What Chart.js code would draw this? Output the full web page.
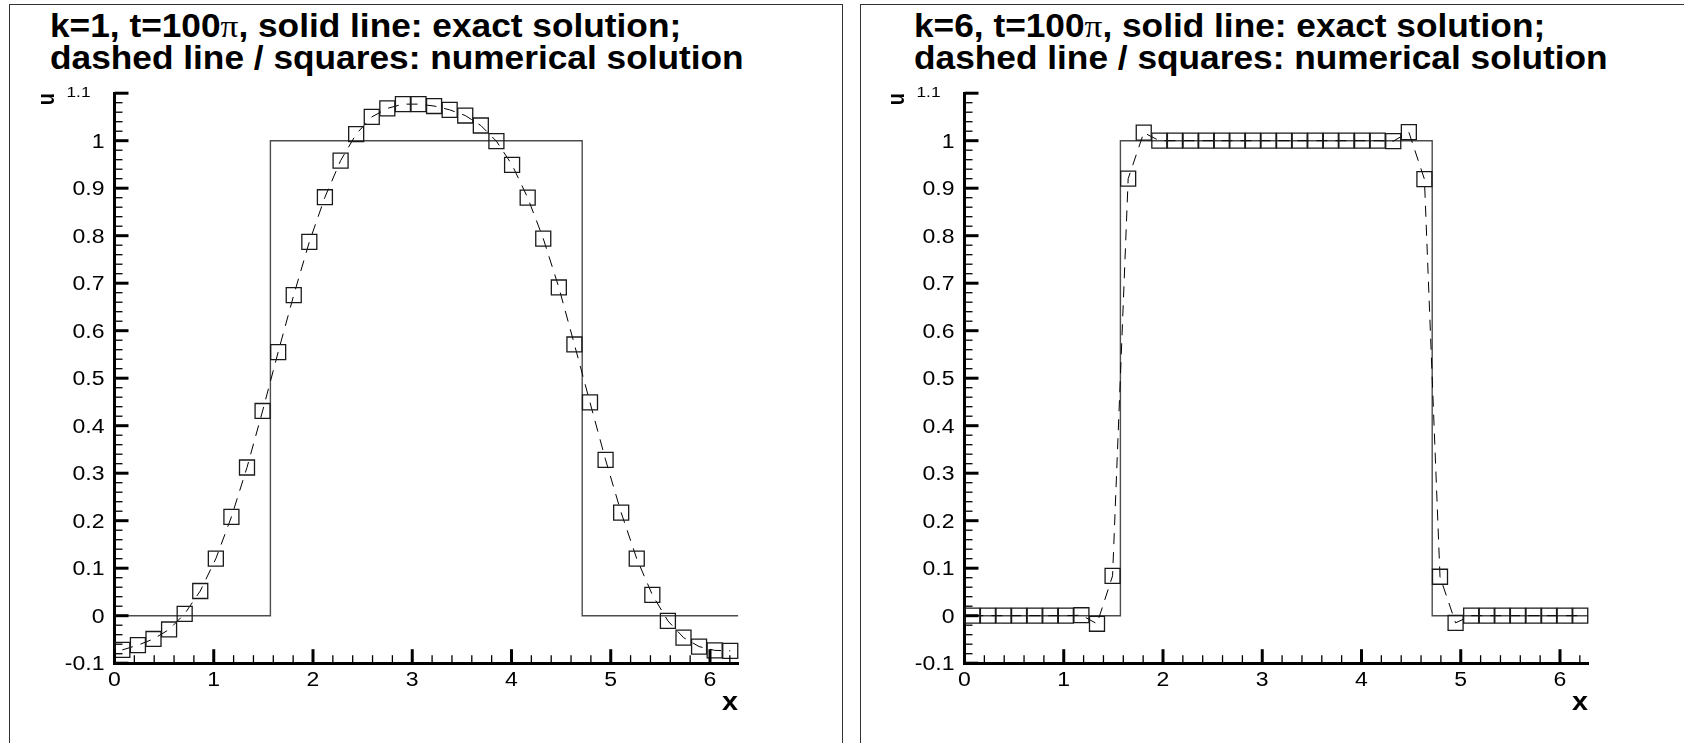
<!DOCTYPE html>
<html>
<head>
<meta charset="utf-8">
<script src="https://cdn.jsdelivr.net/npm/chart.js@4.4.1/dist/chart.umd.min.js"></script>
<style>
  html, body { margin: 0; padding: 0; background: #fff; }
  body { width: 1684px; height: 743px; position: relative; overflow: hidden; }
  .frame { position: absolute; border: 1.6px solid #333; box-sizing: border-box; }
  .plot { position: absolute; top: 0; }
  .title {
    position: absolute; top: 9.5px;
    font: bold 32.5px "Liberation Sans", Arial, sans-serif;
    line-height: 32px; white-space: nowrap; color: #000;
    transform: scaleX(1.085); transform-origin: 0 0;
  }
  .title .pi { font-family: "Liberation Serif", serif; font-weight: normal; }
</style>
</head>
<body>
<div class="frame" style="left:9px; top:4px; width:834px; height:800px;"></div>
<div class="frame" style="left:860px; top:4px; width:900px; height:800px;"></div>

<div class="title" style="left:50px;">k=1, t=100<span class="pi">π</span>, solid line: exact solution;<br>dashed line / squares: numerical solution</div>
<div class="title" style="left:914px;">k=6, t=100<span class="pi">π</span>, solid line: exact solution;<br>dashed line / squares: numerical solution</div>

<canvas id="chart-k1" class="plot" width="850" height="743" style="left:0;"></canvas>
<canvas id="chart-k6" class="plot" width="834" height="743" style="left:850px;"></canvas>

<script>
// grid points (cell centres) and values
const xNodes = [0.079, 0.236, 0.393, 0.550, 0.707, 0.864, 1.021, 1.178, 1.335, 1.492,
                1.649, 1.806, 1.963, 2.120, 2.278, 2.435, 2.592, 2.749, 2.906, 3.063,
                3.220, 3.377, 3.534, 3.691, 3.848, 4.006, 4.163, 4.320, 4.477, 4.634,
                4.791, 4.948, 5.105, 5.262, 5.419, 5.576, 5.733, 5.890, 6.047, 6.204];

const uNumK1 = [-0.072, -0.062, -0.049, -0.029, 0.004, 0.052, 0.120, 0.208, 0.312, 0.431,
                0.555, 0.675, 0.787, 0.881, 0.958, 1.014, 1.050, 1.068, 1.077, 1.077,
                1.073, 1.065, 1.053, 1.032, 0.999, 0.949, 0.880, 0.794, 0.691, 0.571,
                0.449, 0.328, 0.217, 0.120, 0.044, -0.011, -0.046, -0.065, -0.073, -0.074];

const uNumK6 = [0, 0, 0, 0, 0, 0, 0, 0.001, -0.017, 0.084,
                0.920, 1.017, 1.0, 1.0, 1.0, 1.0, 1.0, 1.0, 1.0, 1.0,
                1.0, 1.0, 1.0, 1.0, 1.0, 1.0, 1.0, 0.999, 1.018, 0.919,
                0.082, -0.015, 0, 0, 0, 0, 0, 0, 0, 0];

// exact solution: box between pi/2 and 3pi/2
const xExact = [0, 1.5708, 1.5708, 4.7124, 4.7124, 6.2832];
const uExact = [0, 0, 1, 1, 0, 0];

const xTickValues = [0, 1, 2, 3, 4, 5, 6];
const xTickLabels = ['0', '1', '2', '3', '4', '5', '6'];
const yTickValues = [-0.1, 0, 0.1, 0.2, 0.3, 0.4, 0.5, 0.6, 0.7, 0.8, 0.9, 1, 1.1];
const yTickLabels = ['-0.1', '0', '0.1', '0.2', '0.3', '0.4', '0.5', '0.6', '0.7', '0.8', '0.9', '1', '1.1'];

const X_MIN = 0, X_MAX = 6.2832;
const Y_MIN = -0.1, Y_MAX = 1.1;
const X_MINOR = 0.2, Y_MINOR = 0.02;

const STRETCH = 1.15;      // text in the original is drawn a bit wide
const FONT = '"Liberation Sans", Arial, sans-serif';

function wideText(ctx, text, x, y, align) {
  ctx.save();
  ctx.translate(x, y);
  ctx.scale(STRETCH, 1);
  ctx.textAlign = align;
  ctx.textBaseline = 'alphabetic';
  ctx.fillText(text, 0, 0);
  ctx.restore();
}

// inward ticks, tick labels and axis titles, tecplot style
const tecAxes = {
  id: 'tecAxes',
  afterDraw(chart) {
    const { ctx, chartArea: a, scales: { x, y } } = chart;
    ctx.save();
    ctx.strokeStyle = '#000';

    for (let i = 0; ; i++) {
      const v = X_MIN + i * X_MINOR;
      if (v > X_MAX + 1e-9) break;
      const px = x.getPixelForValue(v);
      const major = i % 5 === 0;
      ctx.lineWidth = major ? 3 : 1.3;
      ctx.beginPath();
      ctx.moveTo(px, a.bottom);
      ctx.lineTo(px, a.bottom - (major ? 14 : 8));
      ctx.stroke();
    }
    for (let i = 0; ; i++) {
      const v = Y_MIN + i * Y_MINOR;
      if (v > Y_MAX + 1e-9) break;
      const py = y.getPixelForValue(v);
      const major = i % 5 === 0;
      ctx.lineWidth = major ? 3 : 1.3;
      ctx.beginPath();
      ctx.moveTo(a.left, py);
      ctx.lineTo(a.left + (major ? 14 : 8), py);
      ctx.stroke();
    }

    ctx.fillStyle = '#000';
    ctx.font = `20px ${FONT}`;
    xTickValues.forEach((v, i) => {
      wideText(ctx, xTickLabels[i], x.getPixelForValue(v), a.bottom + 23, 'center');
    });
    yTickValues.forEach((v, i) => {
      const last = i === yTickValues.length - 1;   // top label is drawn smaller
      const size = last ? 15 : 20;
      ctx.font = `${size}px ${FONT}`;
      const py = y.getPixelForValue(v) + 0.358 * size - (last ? 1.5 : 0);
      wideText(ctx, yTickLabels[i], a.left - (last ? 24 : 10), py, 'right');
    });

    // axis titles
    ctx.font = `bold 20px ${FONT}`;
    ctx.save();
    ctx.translate(a.left - 67, a.top + 6);
    ctx.scale(STRETCH, 1);
    ctx.rotate(-Math.PI / 2);
    ctx.textAlign = 'center';
    ctx.textBaseline = 'middle';
    ctx.fillText('u', 0, 0);
    ctx.restore();

    ctx.font = `bold 25px ${FONT}`;
    wideText(ctx, 'x', a.right, a.bottom + 47, 'right');

    ctx.restore();
  }
};

function makePanel(canvasId, uNum, padRight) {
  const exact = xExact.map((v, i) => ({ x: v, y: uExact[i] }));
  const num = xNodes.map((v, i) => ({ x: v, y: uNum[i] }));

  return new Chart(document.getElementById(canvasId), {
    type: 'scatter',
    data: {
      datasets: [
        {
          data: num,
          showLine: true,
          borderColor: '#000',
          borderWidth: 1,
          borderDash: [11, 8],
          pointStyle: 'rect',
          pointRadius: 10.6,
          pointBorderColor: '#1a1a1a',
          pointBorderWidth: 1.3,
          pointBackgroundColor: 'rgba(0,0,0,0)',
          clip: false,
        },
        {
          data: exact,
          showLine: true,
          borderColor: '#4d4d4d',
          borderWidth: 1.4,
          pointRadius: 0,
          clip: false,
        },
      ]
    },
    options: {
      responsive: false,
      animation: false,
      events: [],
      layout: { padding: { left: 0, right: padRight, top: 93.2, bottom: 0 } },
      plugins: { legend: { display: false }, tooltip: { enabled: false } },
      scales: {
        x: {
          type: 'linear', min: X_MIN, max: X_MAX,
          ticks: { display: false },
          grid: { display: false, drawTicks: false },
          border: { display: true, width: 3, color: '#000' },
          afterFit: s => { s.height = 79.8; },
        },
        y: {
          type: 'linear', min: Y_MIN, max: Y_MAX,
          ticks: { display: false },
          grid: { display: false, drawTicks: false },
          border: { display: true, width: 3, color: '#000' },
          afterFit: s => { s.width = 114.5; },
        },
      },
    },
    plugins: [tecAxes],
  });
}

makePanel('chart-k1', uNumK1, 850 - 738.1);
makePanel('chart-k6', uNumK6, 834 - 738.1);
</script>
</body>
</html>
